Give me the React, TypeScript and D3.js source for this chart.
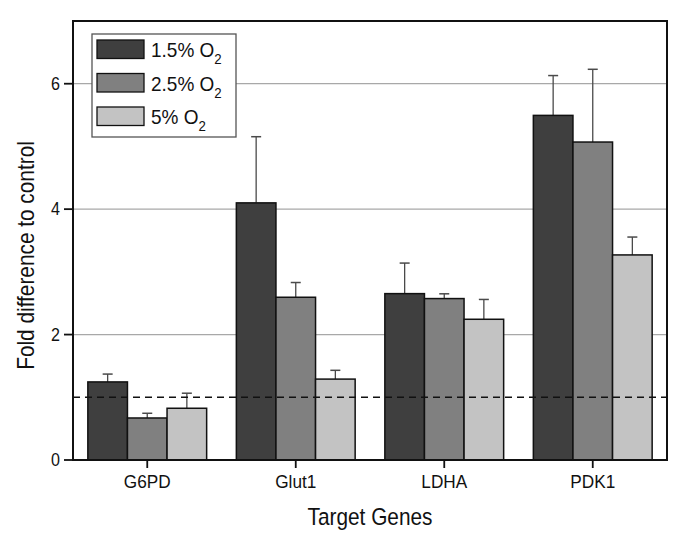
import React from "react";
import * as d3 from "d3";

const categories = ["G6PD", "Glut1", "LDHA", "PDK1"];
const seriesNames = ["1.5%", "2.5%", "5%"];
const values15 = [1.245, 4.1, 2.653, 5.495];
const errors15 = [0.125, 1.055, 0.487, 0.635];
const values25 = [0.67, 2.595, 2.574, 5.07];
const errors25 = [0.075, 0.235, 0.076, 1.16];
const values5 = [0.825, 1.29, 2.244, 3.27];
const errors5 = [0.24, 0.14, 0.316, 0.285];
const yTicks = [0, 2, 4, 6];
const colors = ["#3f3f3f", "#808080", "#c3c3c3"];

const W = 685;
const H = 537;
const M = { left: 73, right: 18, top: 21, bottom: 77 };

export default function App() {
  const iw = W - M.left - M.right;
  const ih = H - M.top - M.bottom;
  const x0 = d3.scaleBand<string>().domain(categories).range([0, iw]).paddingInner(0.2).paddingOuter(0.1);
  const x1 = d3.scaleBand<string>().domain(seriesNames).range([0, x0.bandwidth()]).padding(0);
  const y = d3.scaleLinear().domain([0, 7]).range([ih, 0]);
  const vals = [values15, values25, values5];
  const errs = [errors15, errors25, errors5];
  const font = "Liberation Sans, Arial, sans-serif";

  return (
    <div style={{ position: "absolute", left: 0, top: 0 }}>
      <svg width={W} height={H} style={{ display: "block", background: "#fff" }} fontFamily={font}>
        <g transform={`translate(${M.left},${M.top})`}>
          {yTicks.filter((t) => t > 0).map((t) => (
            <line key={t} x1={0} x2={iw} y1={y(t)} y2={y(t)} stroke="#a8a8a8" strokeWidth={1.3} />
          ))}
          {categories.map((c, i) =>
            seriesNames.map((s, j) => {
              const bx = (x0(c) ?? 0) + (x1(s) ?? 0);
              const bw = x1.bandwidth();
              const v = vals[j][i];
              const e = errs[j][i];
              const cx = bx + bw / 2;
              return (
                <g key={c + s}>
                  <line x1={cx} x2={cx} y1={y(v)} y2={y(v + e)} stroke="#4a4a4a" strokeWidth={1.3} />
                  <line x1={cx - 5} x2={cx + 5} y1={y(v + e)} y2={y(v + e)} stroke="#4a4a4a" strokeWidth={1.5} />
                  <rect x={bx} y={y(v)} width={bw} height={ih - y(v)} fill={colors[j]} stroke="#111" strokeWidth={1.5} />
                </g>
              );
            })
          )}
          <line x1={0} x2={iw} y1={y(1)} y2={y(1)} stroke="#111" strokeWidth={1.5} strokeDasharray="7,5" />
          <rect x={0} y={0} width={iw} height={ih} fill="none" stroke="#111" strokeWidth={2} />
          {yTicks.map((t) => (
            <g key={t} transform={`translate(0,${y(t)})`}>
              <line x1={-9} x2={0} stroke="#111" strokeWidth={1.8} />
              <text transform="translate(-13,0) scale(0.92,1)" dy="0.36em" textAnchor="end" fontSize={17.5} fill="#111">{t}</text>
            </g>
          ))}
          {categories.map((c) => {
            const cx = (x0(c) ?? 0) + x0.bandwidth() / 2;
            return (
              <g key={c} transform={`translate(${cx},${ih})`}>
                <line y1={0} y2={8} stroke="#111" strokeWidth={1.8} />
                <text transform="translate(0,27.5) scale(0.93,1)" textAnchor="middle" fontSize={18.5} fill="#111">{c}</text>
              </g>
            );
          })}
          <text transform={`translate(${iw / 2},${ih + 65}) scale(0.85,1)`} textAnchor="middle" fontSize={24.5} fill="#111">Target Genes</text>
          <text transform={`translate(${25 + 9 - M.left},${ih / 2 + 15}) rotate(-90) scale(0.85,1)`} textAnchor="middle" fontSize={24.5} fill="#111">
            Fold difference to control
          </text>
          <g transform="translate(19,13)">
            <rect x={0} y={0} width={144} height={103} fill="#fff" stroke="#555" strokeWidth={1.3} />
            {seriesNames.map((s, j) => (
              <g key={s} transform={`translate(5,${6 + j * 33.5})`}>
                <rect x={0} y={0} width={47} height={18.5} fill={colors[j]} stroke="#111" strokeWidth={1.3} />
                <text transform="translate(54,17) scale(0.95,1)" fontSize={20} fill="#111">
                  {s} O<tspan fontSize={14} dy={7}>2</tspan>
                </text>
              </g>
            ))}
          </g>
        </g>
      </svg>
    </div>
  );
}
